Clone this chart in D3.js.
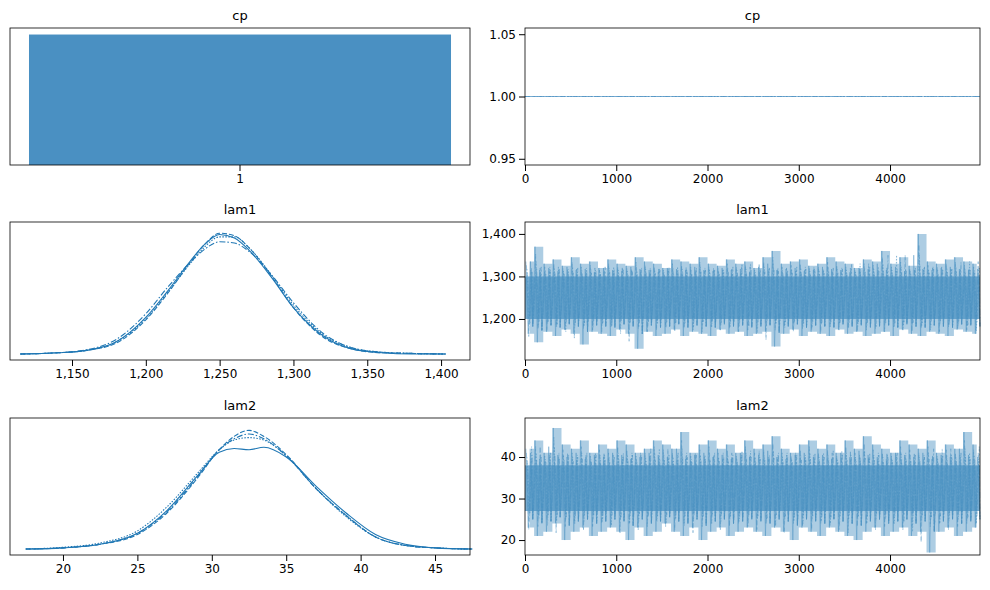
<!DOCTYPE html><html><head><meta charset="utf-8">
<script src="https://cdn.jsdelivr.net/npm/d3@7"></script>
<style>body{margin:0;background:#fff}text{font-family:"DejaVu Sans",sans-serif}</style></head><body>
<svg id="c" width="990" height="590"></svg>
<script>
const cpCategories=["1"], cpCounts=[1];
const lam1Grid=[1115,1140,1160,1180,1200,1215,1230,1240,1250,1260,1270,1285,1300,1320,1340,1360,1380,1403];
const lam1Kde=[
[0,0.01,0.03,0.1,0.3,0.52,0.76,0.9,0.98,0.95,0.85,0.63,0.38,0.15,0.04,0.01,0,0],
[0,0.01,0.03,0.09,0.28,0.5,0.75,0.9,0.99,0.97,0.87,0.64,0.38,0.14,0.04,0.01,0.005,0],
[0,0.01,0.03,0.1,0.29,0.51,0.74,0.88,0.96,0.96,0.87,0.65,0.4,0.16,0.05,0.015,0.005,0],
[0,0.01,0.035,0.12,0.33,0.55,0.75,0.86,0.92,0.91,0.84,0.65,0.42,0.17,0.05,0.015,0.005,0]];
const lam2Grid=[17.5,20,22.5,25,27,29,30.5,31.5,32.5,33.5,35,37,39,41,43,45,47.5];
const lam2Kde=[
[0,0.01,0.04,0.13,0.32,0.6,0.8,0.83,0.82,0.84,0.76,0.52,0.3,0.12,0.04,0.01,0],
[0,0.01,0.04,0.12,0.3,0.58,0.82,0.93,0.98,0.93,0.78,0.5,0.28,0.1,0.03,0.01,0],
[0,0.015,0.05,0.15,0.35,0.62,0.82,0.9,0.92,0.9,0.77,0.5,0.27,0.1,0.03,0.01,0],
[0,0.01,0.04,0.13,0.31,0.59,0.82,0.91,0.95,0.91,0.77,0.5,0.28,0.1,0.03,0.01,0]];
const lam1Hi=[1335,1370,1330,1340,1325,1345,1330,1335,1320,1340,1330,1325,1345,1335,1330,1320,1340,1335,1330,1345,1330,1325,1340,1330,1335,1320,1345,1360,1330,1335,1340,1325,1330,1345,1335,1330,1320,1340,1335,1360,1330,1345,1325,1400,1335,1330,1340,1345,1335,1330];
const lam1Lo=[1165,1145,1170,1160,1175,1165,1140,1170,1165,1160,1175,1165,1130,1170,1160,1165,1175,1160,1170,1165,1160,1175,1165,1170,1160,1165,1170,1135,1165,1175,1160,1170,1165,1160,1175,1165,1170,1160,1165,1170,1160,1175,1165,1160,1170,1165,1160,1175,1170,1165];
const lam2Hi=[42,44,41,47,43,42,44,41,43,42,44,43,41,42,44,43,42,46,41,43,44,42,43,41,44,42,43,45,42,41,43,44,42,43,41,44,42,45,43,42,41,44,43,42,44,41,43,42,46,43];
const lam2Lo=[23,21,22,24,20,22,23,21,22,23,22,20,23,21,22,24,22,21,23,20,22,23,21,22,23,22,21,23,22,20,23,22,21,23,22,21,20,22,23,21,22,23,21,22,17,22,23,21,22,23];
const lam1Core=[1200,1300], lam2Core=[27,38];
const binSize=100;
const C="#1f77b4", F="#4a90c2";
const dashes=[null,"5,2","1.5,1.5","6,2,1.5,2"];
const svg=d3.select("#c");
const L=[10,470], R=[525,980];
const rows=[[28,165],[222,360],[418,555]];
function frame(g,x0,x1,y0,y1){g.append("rect").attr("x",x0).attr("y",y0).attr("width",x1-x0).attr("height",y1-y0).attr("fill","none").attr("stroke","#000").attr("stroke-width",0.8);}
function title(x0,x1,y0,t){svg.append("text").attr("x",(x0+x1)/2).attr("y",y0-8).attr("text-anchor","middle").attr("font-size",13).text(t);}
function ax(g,axis,tr){const a=g.append("g").attr("transform",tr).call(axis);a.select(".domain").remove();a.selectAll("text").attr("font-size",12).attr("font-family","DejaVu Sans");a.selectAll("line").attr("stroke","#000");}
// cp bar
{const[y0,y1]=rows[0];const x=d3.scaleBand().domain(cpCategories).range(L).paddingInner(0).paddingOuter(0.045);
const y=d3.scaleLinear().domain([0,1.05]).range([y1,y0]);
svg.selectAll(".bar").data(cpCounts).join("rect").attr("x",(d,i)=>x(cpCategories[i])).attr("width",x.bandwidth()).attr("y",d=>y(d)).attr("height",d=>y1-y(d)).attr("fill",F);
ax(svg,d3.axisBottom(x).tickSizeOuter(0),`translate(0,${y1})`);frame(svg,L[0],L[1],y0,y1);title(L[0],L[1],y0,"cp");}
// cp trace
const xt=d3.scaleLinear().domain([0,4986]).range(R);
{const[y0,y1]=rows[0];const y=d3.scaleLinear().domain([0.945,1.055]).range([y1,y0]);
for(let k=0;k<4;k++)svg.append("line").attr("x1",xt(0)).attr("x2",xt(4986)).attr("y1",y(1)).attr("y2",y(1)).attr("stroke",F).attr("stroke-opacity",0.5).attr("stroke-dasharray",dashes[k]);
ax(svg,d3.axisLeft(y).tickValues([0.95,1.0,1.05]).tickFormat(d3.format(".2f")),`translate(${R[0]},0)`);
ax(svg,d3.axisBottom(xt).tickValues([0,1000,2000,3000,4000]).tickFormat(d3.format("d")),`translate(0,${y1})`);
frame(svg,R[0],R[1],y0,y1);title(R[0],R[1],y0,"cp");}
function kde(row,dom,grid,kd,ticks,name){const[y0,y1]=rows[row];const x=d3.scaleLinear().domain(dom).range(L);
const y=d3.scaleLinear().domain([-0.049,1.082]).range([y1,y0]);
const ln=d3.line().x((d,i)=>x(grid[i])).y(d=>y(d)).curve(d3.curveMonotoneX);
kd.forEach((c,k)=>svg.append("path").attr("d",ln(c)).attr("fill","none").attr("stroke",C).attr("stroke-width",1.1).attr("stroke-dasharray",dashes[k]));
ax(svg,d3.axisBottom(x).tickValues(ticks),`translate(0,${y1})`);frame(svg,L[0],L[1],y0,y1);title(L[0],L[1],y0,name);}
kde(1,[1108,1419.6],lam1Grid,lam1Kde,[1150,1200,1250,1300,1350,1400],"lam1");
kde(2,[16.44,47.35],lam2Grid,lam2Kde,[20,25,30,35,40,45],"lam2");
function trace(row,dom,hi,lo,core,ticks,name){const[y0,y1]=rows[row];const y=d3.scaleLinear().domain(dom).range([y1,y0]);
const g=svg.append("g");
g.append("path").attr("d",d3.area().x((d,i)=>xt(Math.min(i*binSize+50,4986))).y0((d,i)=>y(lo[i])).y1(d=>y(d)).curve(d3.curveStep)(hi)).attr("fill",F).attr("opacity",0.45);
g.append("rect").attr("x",xt(0)).attr("width",xt(4986)-xt(0)).attr("y",y(core[1])).attr("height",y(core[0])-y(core[1])).attr("fill",F).attr("opacity",0.75);
for(let k=0;k<4;k++){const pts=[];hi.forEach((h,i)=>{const b=i*binSize;const o=k*6;
pts.push([b+10+o,h-(h-core[1])*k*0.25]);pts.push([b+35+o,lo[(i+k)%lo.length]+(core[0]-lo[(i+k)%lo.length])*k*0.25]);pts.push([b+60+o,hi[(i+k+1)%hi.length]*0.5+core[1]*0.5]);pts.push([b+85,lo[i]*0.5+core[0]*0.5]);});
g.append("path").attr("d",d3.line().x(p=>xt(Math.min(p[0],4986))).y(p=>y(p[1]))(pts)).attr("fill","none").attr("stroke",F).attr("stroke-opacity",0.55).attr("stroke-width",0.8).attr("stroke-dasharray",dashes[k]);}
ax(svg,d3.axisLeft(y).tickValues(ticks),`translate(${R[0]},0)`);
ax(svg,d3.axisBottom(xt).tickValues([0,1000,2000,3000,4000]).tickFormat(d3.format("d")),`translate(0,${y1})`);
frame(svg,R[0],R[1],y0,y1);title(R[0],R[1],y0,name);}
trace(1,[1103.5,1428],lam1Hi,lam1Lo,lam1Core,[1200,1300,1400],"lam1");
trace(2,[16.4,49.4],lam2Hi,lam2Lo,lam2Core,[20,30,40],"lam2");
</script></body></html>
